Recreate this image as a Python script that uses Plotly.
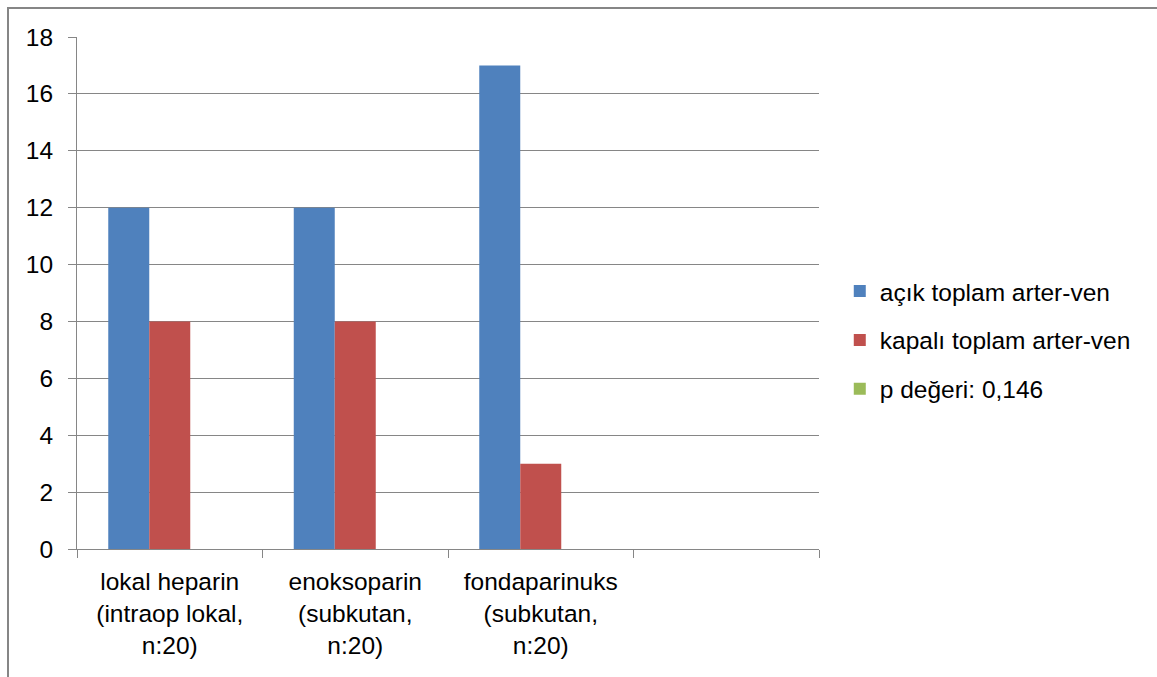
import plotly.graph_objects as go

categories = ["lokal heparin<br>(intraop lokal,<br>n:20)",
              "enoksoparin<br>(subkutan,<br>n:20)",
              "fondaparinuks<br>(subkutan,<br>n:20)",
              " "]
series_names = ["açık toplam arter-ven", "kapalı toplam arter-ven", "p değeri: 0,146"]
acik = [12, 12, 17, None]
kapali = [8, 8, 3, None]
p_degeri = [None, None, None, None]
colors = ["#4F81BD", "#C0504D", "#9BBB59"]
y_ticks = [0, 2, 4, 6, 8, 10, 12, 14, 16, 18]

FONT = dict(family="Liberation Sans, Arial, sans-serif", size=24.5, color="#000000")
GRID = "#868686"

fig = go.Figure()
for i, (name, vals) in enumerate(zip(series_names, [acik, kapali, p_degeri])):
    fig.add_trace(go.Bar(x=categories, y=vals, name=name, marker_color=colors[i],
                         marker_line_width=0, legendgroup=f"g{i}"))

fig.update_layout(
    width=1157, height=677,
    margin=dict(l=77, r=338, t=37, b=128),
    paper_bgcolor="white", plot_bgcolor="white",
    barmode="group", bargap=0.337, bargroupgap=0,
    font=FONT,
    showlegend=True,
    legend=dict(x=1.028, xanchor="left", y=0.408, yanchor="middle",
                font=FONT, tracegroupgap=14, bgcolor="rgba(0,0,0,0)"),
    xaxis=dict(type="category", categoryorder="array", categoryarray=categories,
               range=[-0.5, 3.5], showline=True, linecolor=GRID, linewidth=1,
               ticks="outside", ticklen=8, tickcolor=GRID, tickwidth=1,
               tickson="boundaries", showgrid=False, tickfont=FONT,
               ticklabelstandoff=11, fixedrange=True),
    yaxis=dict(range=[0, 18], tickvals=y_ticks, showline=True, linecolor=GRID, linewidth=1,
               ticks="outside", ticklen=8, tickcolor=GRID, tickwidth=1,
               showgrid=True, gridcolor=GRID, gridwidth=1, zeroline=False,
               tickfont=FONT, ticklabelstandoff=10, fixedrange=True),
)

# outer chart-area border (left and top edges visible in the reference)
fig.add_shape(type="rect", xref="paper", yref="paper",
              x0=(8 - 77) / 742, x1=1.6, y0=-0.5, y1=1 + (37 - 8) / 512,
              line=dict(color=GRID, width=2), fillcolor="rgba(0,0,0,0)", layer="below")

fig.write_html("out.html")
